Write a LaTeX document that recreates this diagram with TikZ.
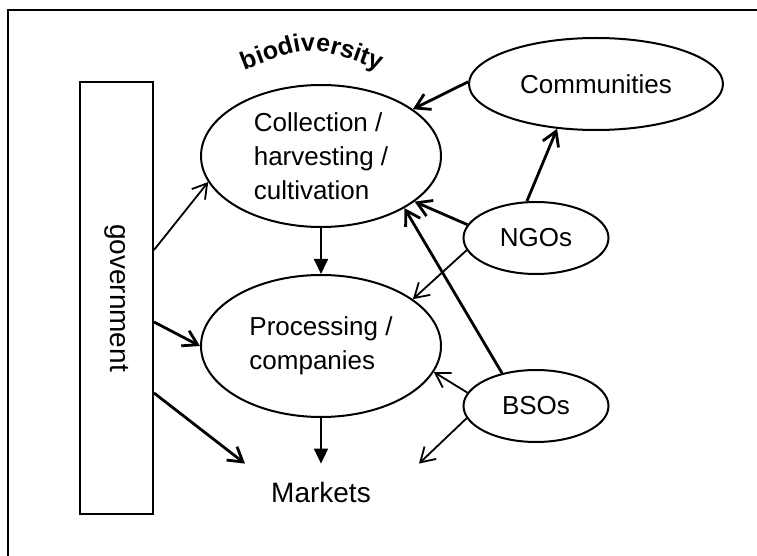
\documentclass[tikz,border=0pt]{standalone}
\usepackage{fontspec}
\setmainfont{Liberation Sans}
\usepackage{graphicx}
\usetikzlibrary{arrows.meta,shapes.geometric,decorations.text}

\newcommand{\biofont}{\fontsize{12.5}{14}\selectfont\bfseries}

\begin{document}
\begin{tikzpicture}[x=0.5pt, y=-0.5pt,
    actor/.style={draw, ellipse, line width=1pt, inner sep=0pt, align=left, font=\fontsize{13}{17}\selectfont},
    open/.style={-{Straight Barb[length=7pt,width=8.5pt]}, line width=0.9pt},
    openthick/.style={open, line width=1.4pt},
    flow/.style={-{Triangle[length=7.5pt,width=7pt]}, line width=0.9pt}]
    \useasboundingbox (0,0) rectangle (757,556);

    % Frame round the chart
    \draw[line width=1.2pt] (8,10) rectangle (790,590);

    % Government box
    \node[draw, rectangle, line width=1pt, minimum width=36.5pt, minimum height=216pt, inner sep=0pt,
          font=\fontsize{14}{17}\selectfont] (gov) at (116.5,298) {\rotatebox{-90}{government}};

    % Value chain
    \node[actor, minimum width=120pt, minimum height=71pt] (collect) at (321,156) {Collection /\\harvesting /\\cultivation};
    \node[actor, minimum width=120pt, minimum height=71pt] (proc) at (321,346) {Processing /\\companies};
    \node[minimum width=100pt, minimum height=28pt, inner sep=0pt, font=\fontsize{14}{17}\selectfont] (markets) at (321,492) {Markets};
    \draw[flow] (collect.south) -- (proc.north);
    \draw[flow] (proc.south) -- (markets.north);

    % Arched title over the collection stage
    \path[decorate, decoration={text along path, text align=center, text={|\biofont|biodiversity}}]
        (240,72) .. controls (311,44) .. (384,72);

    % Supporting actors
    \node[actor, minimum width=127pt, minimum height=46pt] (comm) at (596,84) {Communities};
    \node[actor, minimum width=72.5pt, minimum height=36pt] (ngo) at (536,238) {NGOs};
    \node[actor, minimum width=72.5pt, minimum height=36pt] (bso) at (536,406) {BSOs};

    % Links from government
    \draw[open] ([yshift=24pt]gov.east) -- (collect.193);
    \draw[openthick] ([yshift=-12pt]gov.east) -- (proc.west);
    \draw[openthick] ([yshift=-47.5pt]gov.east) -- ([xshift=-38pt]markets.north);

    % Links from communities and NGOs
    \draw[openthick] (comm.179) -- (collect.27);
    \draw[openthick] (ngo.104) -- (comm.229);
    \draw[openthick] (ngo.169) -- (collect.334);
    \draw[open] (ngo.190) -- (proc.27);

    % Links from BSOs
    \draw[openthick] (bso.136) -- (collect.328);
    \draw[open] (bso.169) -- (proc.347);
    \draw[open] (bso.190) -- ([xshift=49pt]markets.north);
\end{tikzpicture}
\end{document}
